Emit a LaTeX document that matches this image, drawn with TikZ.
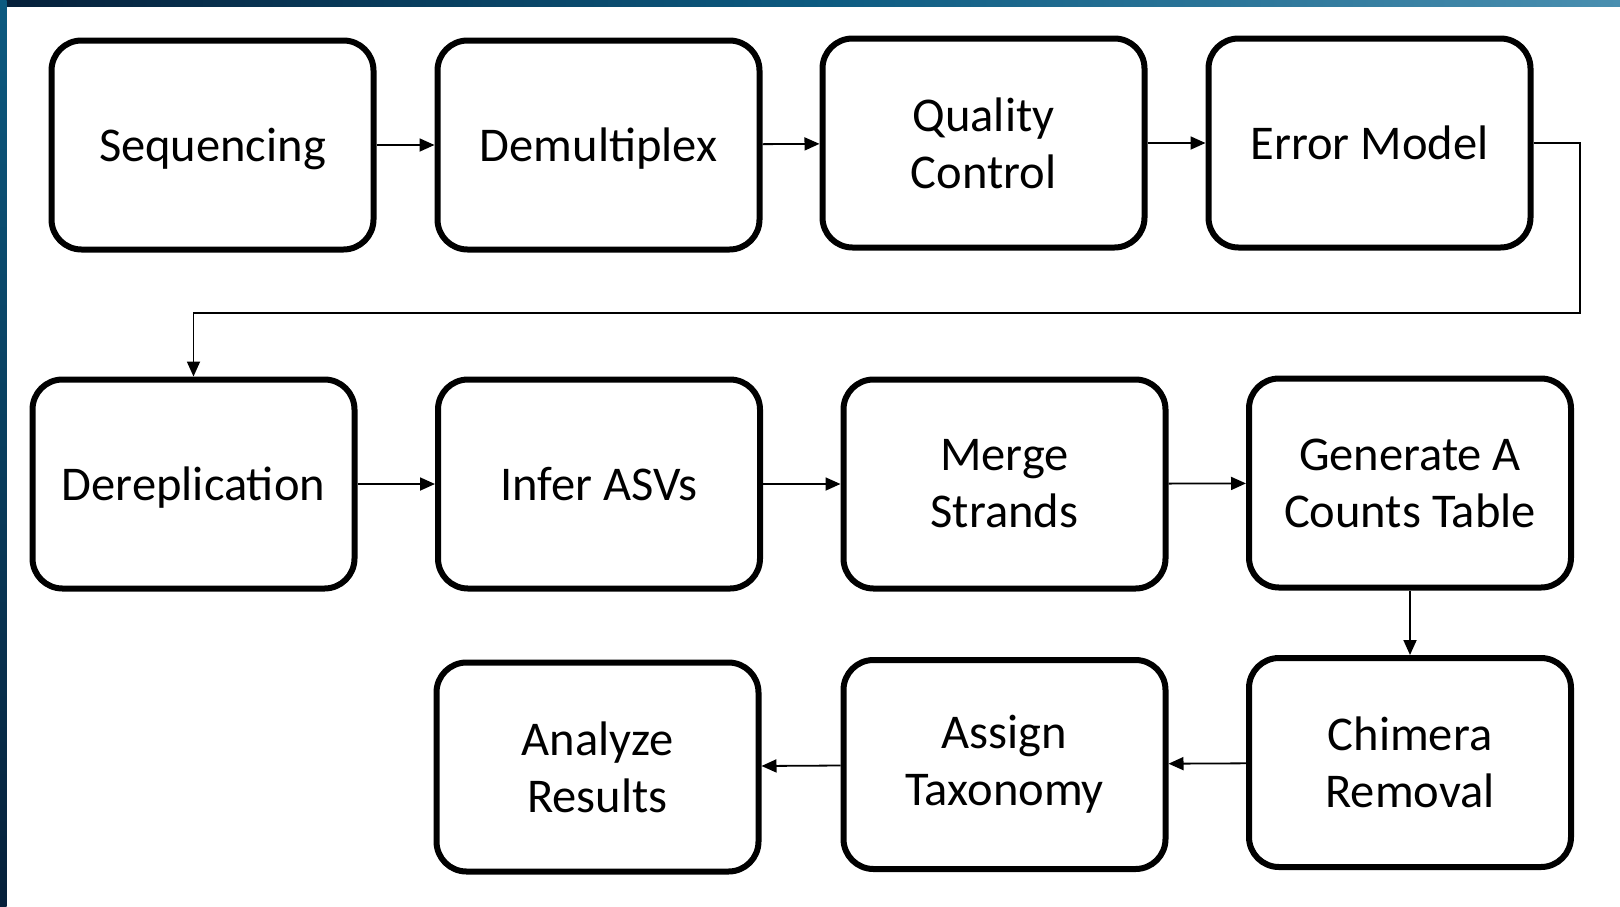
\documentclass[tikz,border=0pt]{standalone}
\usepackage{fontspec}
\setmainfont{Carlito}
\usetikzlibrary{arrows.meta}
\definecolor{navy}{HTML}{06203A}
\definecolor{sea}{HTML}{0C5A80}
\definecolor{sky}{HTML}{4A8FB0}
\tikzset{
  stepbox/.style={draw=black, line width=6pt, rounded corners=30pt, fill=white,
    minimum width=322pt, minimum height=209pt, align=center,
    font=\fontsize{48.5}{57}\selectfont, inner sep=0pt},
  oneline/.style={text depth=0pt},
  flow/.style={draw=black, line width=1.8pt, -{Triangle[length=15pt,width=13pt]}},
}
\begin{document}
\begin{tikzpicture}[x=1pt, y=-1pt]
  \useasboundingbox (0,0) rectangle (1620,906);
  \fill[white] (0,0) rectangle (1620,906);
  % dark textured frame along the top and left edges
  \shade[left color=navy, right color=sky, middle color=sea] (0,0) rectangle (1620,6.5);
  \shade[top color=sea, bottom color=navy] (0,0) rectangle (6.5,906);

  % first row
  \node[stepbox, oneline] (seq)   at (212.5,145) {Sequencing};
  \node[stepbox, oneline] (demux) at (598.5,145) {Demultiplex};
  \node[stepbox] (qc)    at (983.5,143) {Quality\\Control};
  \node[stepbox, oneline] (err)   at (1369.5,143) {Error Model};

  % second row
  \node[stepbox, oneline] (derep) at (193.5,484) {Dereplication};
  \node[stepbox, oneline] (asv)   at (599,484) {Infer ASVs};
  \node[stepbox] (merge) at (1004.5,484) {Merge\\Strands};
  \node[stepbox] (table) at (1410,483) {Generate A\\Counts Table};

  % third row
  \node[stepbox] (anal)  at (597.5,767) {Analyze\\Results};
  \node[stepbox] (tax)   at (1004.5,764.5) {Assign\\Taxonomy};
  \node[stepbox] (chim)  at (1410,762.5) {Chimera\\Removal};

  % connectors
  \coordinate (turnA) at (1580,143);
  \coordinate (turnB) at (1580,313);
  \coordinate (turnC) at (193.5,313);

  \draw[flow] (seq) -- (demux);
  \draw[flow] (demux) -- (qc);
  \draw[flow] (qc) -- (err);
  \draw[flow] (err.east) -- (turnA) -- (turnB) -- (turnC) -- (derep.north);
  \draw[flow] (derep) -- (asv);
  \draw[flow] (asv) -- (merge);
  \draw[flow] (merge) -- (table);
  \draw[flow] (table) -- (chim);
  \draw[flow] (chim) -- (tax);
  \draw[flow] (tax) -- (anal);
\end{tikzpicture}
\end{document}
